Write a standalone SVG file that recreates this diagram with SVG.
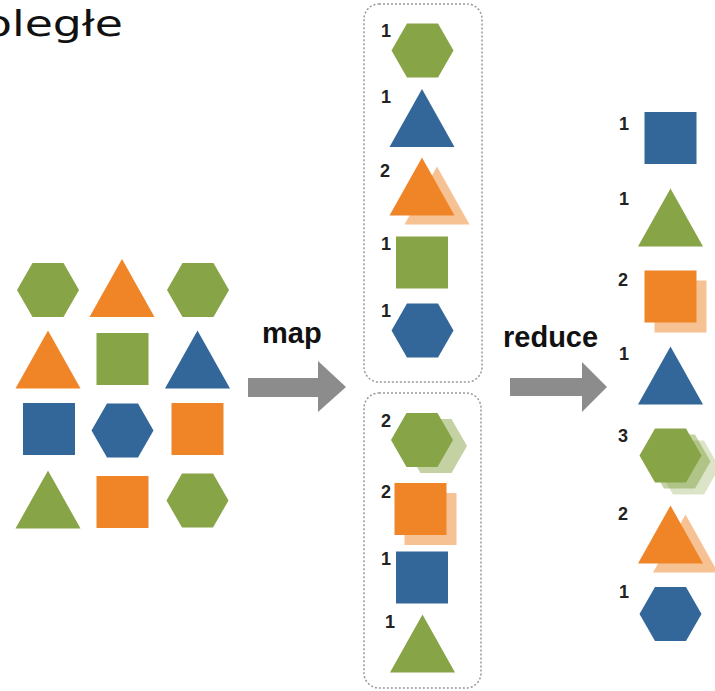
<svg xmlns="http://www.w3.org/2000/svg" xmlns:xlink="http://www.w3.org/1999/xlink" width="715" height="691" viewBox="0 0 715 691">
  <style>
    .g { fill: #87A447; }
    .o { fill: #F08528; }
    .b { fill: #336699; }
    .ghost { opacity: 0.5; }
    .ghost2 { opacity: 0.3; }
    .cnt { font-family: "Liberation Sans", Arial, sans-serif; font-weight: bold; font-size: 18px; fill: #222; }
    .lbl { font-family: "Liberation Sans", Arial, sans-serif; font-weight: bold; font-size: 29px; fill: #111; }
    .title { font-family: "DejaVu Sans", sans-serif; font-size: 36px; fill: #111; }
    .box { fill: none; stroke: #999; stroke-width: 1.5; stroke-dasharray: 2 2; }
    .arrow { fill: #8C8C8C; }
  </style>
  <defs>
    <polygon id="hex" points="-31,0 -15.5,-27 15.5,-27 31,0 15.5,27 -15.5,27"/>
    <polygon id="tri" points="0,-29 32.5,29 -32.5,29"/>
    <rect id="sq" x="-26" y="-26" width="52" height="52"/>
  </defs>

  <!-- heading, running off the left edge -->
  <text class="title" x="-16" y="36" textLength="139" lengthAdjust="spacingAndGlyphs">oległe</text>

  <!-- input set -->
  <g id="input">
    <use xlink:href="#hex" class="g" transform="translate(48,290)"/>
    <use xlink:href="#tri" class="o" transform="translate(122,288)"/>
    <use xlink:href="#hex" class="g" transform="translate(198,290)"/>
    <use xlink:href="#tri" class="o" transform="translate(48,359.5)"/>
    <use xlink:href="#sq" class="g" transform="translate(122.5,359)"/>
    <use xlink:href="#tri" class="b" transform="translate(197.5,359.5)"/>
    <use xlink:href="#sq" class="b" transform="translate(49,429)"/>
    <use xlink:href="#hex" class="b" transform="translate(122.5,430.5)"/>
    <use xlink:href="#sq" class="o" transform="translate(197.5,429)"/>
    <use xlink:href="#tri" class="g" transform="translate(48,499.5)"/>
    <use xlink:href="#sq" class="o" transform="translate(122.5,502)"/>
    <use xlink:href="#hex" class="g" transform="translate(197.5,500.5)"/>
  </g>

  <!-- connectors -->
  <g id="connectors">
    <polygon class="arrow" points="248,378 318,378 318,361 346,387 318,412 318,397 248,397"/>
    <polygon class="arrow" points="510,378 582,378 582,362 607,387 582,412 582,396 510,396"/>
    <text class="lbl" x="262" y="343">map</text>
    <text class="lbl" x="503" y="347">reduce</text>
  </g>

  <!-- map output, first partition -->
  <g id="map-a">
    <rect class="box" x="364" y="4" width="118" height="378" rx="15"/>
    <text class="cnt" x="381" y="37">1</text>
    <use xlink:href="#hex" class="g" transform="translate(422.5,50.5)"/>
    <text class="cnt" x="381" y="103">1</text>
    <use xlink:href="#tri" class="b" transform="translate(422,118)"/>
    <text class="cnt" x="380" y="177">2</text>
    <use xlink:href="#tri" class="o ghost" transform="translate(437,195.5)"/>
    <use xlink:href="#tri" class="o" transform="translate(422,186.5)"/>
    <text class="cnt" x="381" y="250">1</text>
    <use xlink:href="#sq" class="g" transform="translate(422,262.5)"/>
    <text class="cnt" x="381" y="317">1</text>
    <use xlink:href="#hex" class="b" transform="translate(422.5,330.5)"/>
  </g>

  <!-- map output, second partition -->
  <g id="map-b">
    <rect class="box" x="364" y="393" width="117" height="295" rx="15"/>
    <text class="cnt" x="381" y="427">2</text>
    <use xlink:href="#hex" class="g ghost" transform="translate(436,446)"/>
    <use xlink:href="#hex" class="g" transform="translate(422,440)"/>
    <text class="cnt" x="381" y="498">2</text>
    <use xlink:href="#sq" class="o ghost" transform="translate(430.5,519)"/>
    <use xlink:href="#sq" class="o" transform="translate(420.5,509)"/>
    <text class="cnt" x="381" y="565">1</text>
    <use xlink:href="#sq" class="b" transform="translate(422,577.5)"/>
    <text class="cnt" x="385" y="628">1</text>
    <use xlink:href="#tri" class="g" transform="translate(422.5,643.5)"/>
  </g>

  <!-- reduce output -->
  <g id="reduce-out">
    <text class="cnt" x="619" y="130">1</text>
    <use xlink:href="#sq" class="b" transform="translate(670.5,138)"/>
    <text class="cnt" x="619" y="205">1</text>
    <use xlink:href="#tri" class="g" transform="translate(670.5,217.5)"/>
    <text class="cnt" x="618" y="286">2</text>
    <use xlink:href="#sq" class="o ghost" transform="translate(680.5,306.5)"/>
    <use xlink:href="#sq" class="o" transform="translate(670.5,296.5)"/>
    <text class="cnt" x="619" y="360">1</text>
    <use xlink:href="#tri" class="b" transform="translate(670.5,375.5)"/>
    <text class="cnt" x="618" y="442">3</text>
    <use xlink:href="#hex" class="g ghost2" transform="translate(688.5,467.5)"/>
    <use xlink:href="#hex" class="g ghost" transform="translate(679.5,461.5)"/>
    <use xlink:href="#hex" class="g" transform="translate(670.5,455.5)"/>
    <text class="cnt" x="618" y="520">2</text>
    <use xlink:href="#tri" class="o ghost" transform="translate(685.5,543.5)"/>
    <use xlink:href="#tri" class="o" transform="translate(670.5,534.5)"/>
    <text class="cnt" x="619" y="598">1</text>
    <use xlink:href="#hex" class="b" transform="translate(670.5,614)"/>
  </g>
</svg>
